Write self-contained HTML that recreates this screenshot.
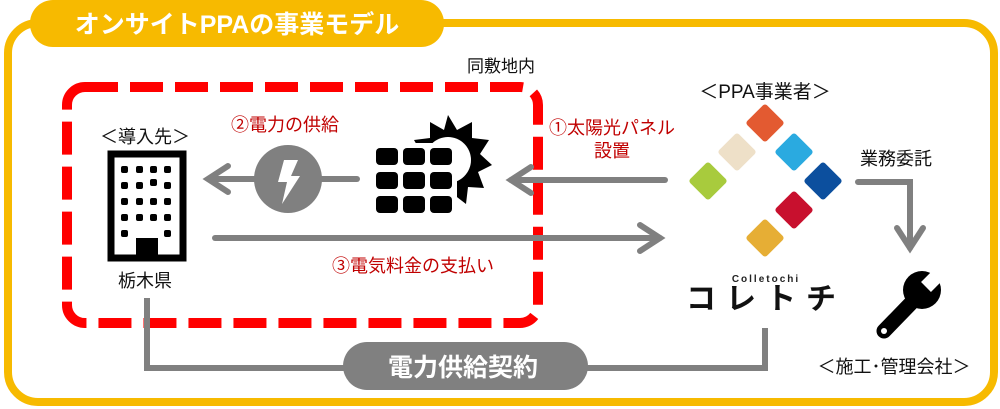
<!DOCTYPE html>
<html><head><meta charset="utf-8"><style>
html,body{margin:0;padding:0;background:#fff;}
svg{display:block;}
text{font-family:"Liberation Sans","Noto Sans CJK JP",sans-serif;}
</style></head><body>
<svg width="1000" height="409" viewBox="0 0 1000 409" xmlns="http://www.w3.org/2000/svg">
<rect x="8" y="23" width="986" height="379" rx="30" fill="none" stroke="#F7BA00" stroke-width="8"/>
<rect x="30" y="0" width="414" height="47" rx="23" fill="#F7BA00"/>
<text x="237" y="33" font-size="25" font-weight="bold" fill="#fff" text-anchor="middle">オンサイトPPAの事業モデル</text>

<rect x="67" y="87" width="471" height="236" rx="18" fill="none" stroke="#FF0000" stroke-width="10" stroke-dasharray="33 12"/>
<text x="501" y="72" font-size="17" fill="#111" text-anchor="middle">同敷地内</text>

<text x="145" y="143" font-size="18" fill="#111" text-anchor="middle">＜導入先＞</text>
<rect x="111" y="154" width="72" height="104" fill="none" stroke="#000" stroke-width="7"/>
<g fill="#000">
<rect x="121" y="166" width="7" height="7" rx="2"/><rect x="136" y="166" width="7" height="7" rx="2"/><rect x="150" y="166" width="7" height="7" rx="2"/><rect x="164" y="166" width="7" height="7" rx="2"/>
<rect x="121" y="182" width="7" height="7" rx="2"/><rect x="136" y="182" width="7" height="7" rx="2"/><rect x="150" y="179" width="7" height="7" rx="2"/><rect x="164" y="182" width="7" height="7" rx="2"/>
<rect x="121" y="198" width="7" height="7" rx="2"/><rect x="136" y="198" width="7" height="7" rx="2"/><rect x="150" y="198" width="7" height="7" rx="2"/><rect x="164" y="198" width="7" height="7" rx="2"/>
<rect x="121" y="214" width="7" height="7" rx="2"/><rect x="136" y="214" width="7" height="7" rx="2"/><rect x="150" y="214" width="7" height="7" rx="2"/><rect x="164" y="214" width="7" height="7" rx="2"/>
<rect x="121" y="230" width="7" height="7" rx="2"/><rect x="164" y="230" width="7" height="7" rx="2"/>
<rect x="136" y="238" width="22" height="20"/>
</g>
<text x="145" y="287" font-size="18" fill="#111" text-anchor="middle">栃木県</text>

<g stroke="#808080" stroke-width="6" fill="none" stroke-linecap="round">
<line x1="357" y1="179" x2="209" y2="179"/>
<polyline points="228,166 208,179 228,192"/>
<line x1="665" y1="180" x2="511" y2="180"/>
<polyline points="531,167 511,180 531,193"/>
<line x1="215" y1="238" x2="660" y2="238"/>
<polyline points="640,225 660,238 640,251"/>
</g>
<circle cx="288" cy="179" r="34" fill="#808080"/>
<polygon points="284,160 298,160 291,176 300,176 282,204 287,182 278,182" fill="#fff"/>
<text x="285" y="131" font-size="18" fill="#C00000" text-anchor="middle">②電力の供給</text>

<g transform="translate(448,160)">
<polygon fill="#000" points="0,-45 9,-30 24,-38 24,-22 41,-20 32,-6 44,5 30,12 36,28 20,27 18,44 5,34 -8,44 -12,28 -28,32 -24,14 -40,6 -26,-6 -34,-20 -18,-22 -18,-38 -4,-30"/>
<circle r="23" fill="#fff"/>
</g>
<rect x="371" y="143" width="86" height="75" fill="#fff"/>
<g fill="#000">
<rect x="376" y="148" width="22" height="17" rx="4"/><rect x="403" y="148" width="22" height="17" rx="4"/><rect x="430" y="148" width="22" height="17" rx="4"/>
<rect x="376" y="172" width="22" height="17" rx="4"/><rect x="403" y="172" width="22" height="17" rx="4"/><rect x="430" y="172" width="22" height="17" rx="4"/>
<rect x="376" y="196" width="22" height="17" rx="4"/><rect x="403" y="196" width="22" height="17" rx="4"/><rect x="430" y="196" width="22" height="17" rx="4"/>
</g>
<text x="413" y="272" font-size="18" fill="#C00000" text-anchor="middle">③電気料金の支払い</text>
<text x="612" y="134" font-size="18" fill="#C00000" text-anchor="middle">①太陽光パネル</text>
<text x="612" y="157" font-size="18" fill="#C00000" text-anchor="middle">設置</text>

<text x="765" y="98" font-size="19" fill="#111" text-anchor="middle">＜PPA事業者＞</text>
<g>
<rect x="-14" y="-14" width="28" height="28" rx="3" fill="#E35A31" transform="translate(765,123) rotate(45)"/>
<rect x="-14" y="-14" width="28" height="28" rx="3" fill="#EEE0C8" transform="translate(737,152) rotate(45)"/>
<rect x="-14" y="-14" width="28" height="28" rx="3" fill="#2AAAE0" transform="translate(794,152) rotate(45)"/>
<rect x="-14" y="-14" width="28" height="28" rx="3" fill="#A8CB3D" transform="translate(708,181) rotate(45)"/>
<rect x="-14" y="-14" width="28" height="28" rx="3" fill="#0C4F9E" transform="translate(823,181) rotate(45)"/>
<rect x="-14" y="-14" width="28" height="28" rx="3" fill="#C8102E" transform="translate(794,210) rotate(45)"/>
<rect x="-14" y="-14" width="28" height="28" rx="3" fill="#E6AE35" transform="translate(765,238) rotate(45)"/>
</g>
<text x="766" y="282" font-size="10" font-weight="bold" fill="#222" text-anchor="middle" letter-spacing="2">Colletochi</text>
<text x="766" y="309" font-size="30" font-weight="bold" fill="#111" text-anchor="middle" letter-spacing="10">コレトチ</text>

<text x="896" y="165" font-size="18" fill="#111" text-anchor="middle">業務委託</text>
<g stroke="#808080" stroke-width="6" fill="none" stroke-linecap="round">
<polyline points="858,182 910,182 910,248"/>
<polyline points="897,228 910,248 923,228"/>
</g>
<line x1="884" y1="331" x2="916" y2="298" stroke="#000" stroke-width="15" stroke-linecap="round"/>
<circle cx="922" cy="290" r="19" fill="#000"/>
<rect x="-7" y="-22" width="14" height="22" fill="#fff" transform="translate(926,287) rotate(45)"/>
<circle cx="884" cy="331" r="3" fill="#fff"/>
<text x="894" y="373" font-size="18" fill="#111" text-anchor="middle">＜施工･管理会社＞</text>

<polyline points="147,298 147,368 765,368 765,328" fill="none" stroke="#808080" stroke-width="6"/>
<rect x="343" y="342" width="245" height="48" rx="24" fill="#808080"/>
<text x="463" y="376" font-size="25" font-weight="bold" fill="#fff" text-anchor="middle">電力供給契約</text>
</svg>
</body></html>
